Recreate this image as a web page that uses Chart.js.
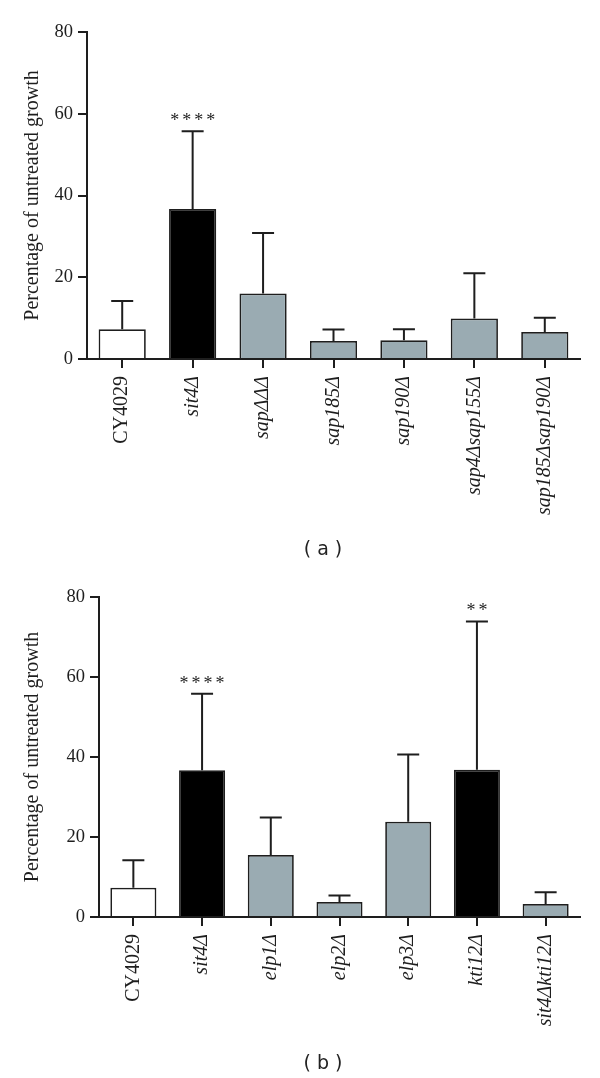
<!DOCTYPE html>
<html>
<head>
<meta charset="utf-8">
<script src="https://cdn.jsdelivr.net/npm/chart.js@4.4.1/dist/chart.umd.min.js"></script>
<style>
  body { margin: 0; background: #fff; width: 600px; height: 1078px; position: relative; overflow: hidden; }
  .panel { position: absolute; left: 0; width: 600px; }
  .caption { position: absolute; width: 600px; text-align: center; font-family: "DejaVu Sans", sans-serif; font-size: 19px; color: #222; }
</style>
</head>
<body>
<div class="panel" style="top:0;height:540px"><canvas id="chartA" width="600" height="540"></canvas></div>
<div class="panel" style="top:540px;height:538px"><canvas id="chartB" width="600" height="538"></canvas></div>
<div class="caption" style="top:537px;left:23px;">( a )</div>
<div class="caption" style="top:1051px;left:23px;">( b )</div>
<script>
// panel (a)
const strainsA = ['CY4029', 'sit4Δ', 'sapΔΔΔ', 'sap185Δ', 'sap190Δ', 'sap4Δsap155Δ', 'sap185Δsap190Δ'];
const meanA = [7.3, 36.7, 16.0, 4.4, 4.6, 9.9, 6.6];
const sdA = [6.9, 19.0, 14.8, 2.8, 2.7, 11.1, 3.5];
const starsA = ['', '****', '', '', '', '', ''];
const groupA = ['wt', 'sit4', 'mut', 'mut', 'mut', 'mut', 'mut'];

// panel (b)
const strainsB = ['CY4029', 'sit4Δ', 'elp1Δ', 'elp2Δ', 'elp3Δ', 'kti12Δ', 'sit4Δkti12Δ'];
const meanB = [7.3, 36.7, 15.5, 3.75, 23.8, 36.8, 3.25];
const sdB = [6.9, 19.1, 9.4, 1.65, 16.8, 37.1, 2.95];
const starsB = ['', '****', '', '', '', '**', ''];
const groupB = ['wt', 'sit4', 'mut', 'mut', 'mut', 'sit4', 'mut'];

const yTicks = [0, 20, 40, 60, 80];

const fillFor = { wt: '#ffffff', sit4: '#000000', mut: '#9aabb2' };
const ink = '#1e1e1e';
const serif = '"Liberation Serif", "DejaVu Serif", serif';

// error bars (upper only) and significance stars
const errorBars = {
  id: 'errorBars',
  afterDatasetsDraw(chart, args, opts) {
    const ctx = chart.ctx;
    const xs = chart.scales.x, ys = chart.scales.y;
    const means = chart.data.datasets[0].data;
    ctx.save();
    ctx.strokeStyle = ink;
    ctx.lineWidth = 2;
    means.forEach((m, i) => {
      const x = xs.getPixelForValue(i);
      const y0 = ys.getPixelForValue(m);
      const y1 = ys.getPixelForValue(m + opts.sd[i]);
      ctx.beginPath();
      ctx.moveTo(x, y0);
      ctx.lineTo(x, y1);
      ctx.moveTo(x - 11, y1);
      ctx.lineTo(x + 11, y1);
      ctx.stroke();
      if (opts.stars[i]) {
        ctx.fillStyle = ink;
        ctx.font = '18px ' + serif;
        ctx.letterSpacing = '3px';
        ctx.textAlign = 'center';
        ctx.textBaseline = 'alphabetic';
        ctx.fillText(opts.stars[i], x + 1.5, y1 - 5);
        ctx.letterSpacing = '0px';
      }
    });
    ctx.restore();
  }
};

function makeChart(id, labels, means, sd, stars, groups, padTop, yWidth, xHeight) {
  return new Chart(document.getElementById(id), {
    type: 'bar',
    data: {
      labels: labels,
      datasets: [{
        data: means,
        backgroundColor: groups.map(g => fillFor[g]),
        borderColor: ink,
        borderWidth: 1.75,
        barPercentage: 0.67,
        categoryPercentage: 1.0
      }]
    },
    options: {
      responsive: false,
      animation: false,
      events: [],
      layout: { padding: { top: padTop, right: 20, left: 0, bottom: 0 } },
      plugins: {
        legend: { display: false },
        tooltip: { enabled: false },
        errorBars: { sd: sd, stars: stars }
      },
      scales: {
        x: {
          offset: true,
          grid: { offset: false, drawOnChartArea: false, drawTicks: true, tickLength: 9, color: ink, lineWidth: 2 },
          border: { color: ink, width: 2 },
          ticks: {
            autoSkip: false,
            minRotation: 90,
            maxRotation: 90,
            padding: 8,
            color: ink,
            font: (c) => ({ family: serif, size: 20, style: c.index === 0 ? 'normal' : 'italic' })
          },
          afterFit: (s) => { s.height = xHeight; }
        },
        y: {
          min: 0,
          max: 80,
          afterBuildTicks: (s) => { s.ticks = yTicks.map(v => ({ value: v })); },
          grid: { drawOnChartArea: false, drawTicks: true, tickLength: 9, color: ink, lineWidth: 2 },
          border: { color: ink, width: 2 },
          ticks: { padding: 5, color: ink, font: { family: serif, size: 18.5 } },
          title: {
            display: true,
            text: 'Percentage of untreated growth',
            color: ink,
            font: { family: serif, size: 20 },
            padding: { top: 21, bottom: 0 }
          },
          afterFit: (s) => { s.width = yWidth; }
        }
      }
    },
    plugins: [errorBars]
  });
}

makeChart('chartA', strainsA, meanA, sdA, starsA, groupA, 32, 87, 181);
makeChart('chartB', strainsB, meanB, sdB, starsB, groupB, 57, 99, 161);
</script>
</body>
</html>
